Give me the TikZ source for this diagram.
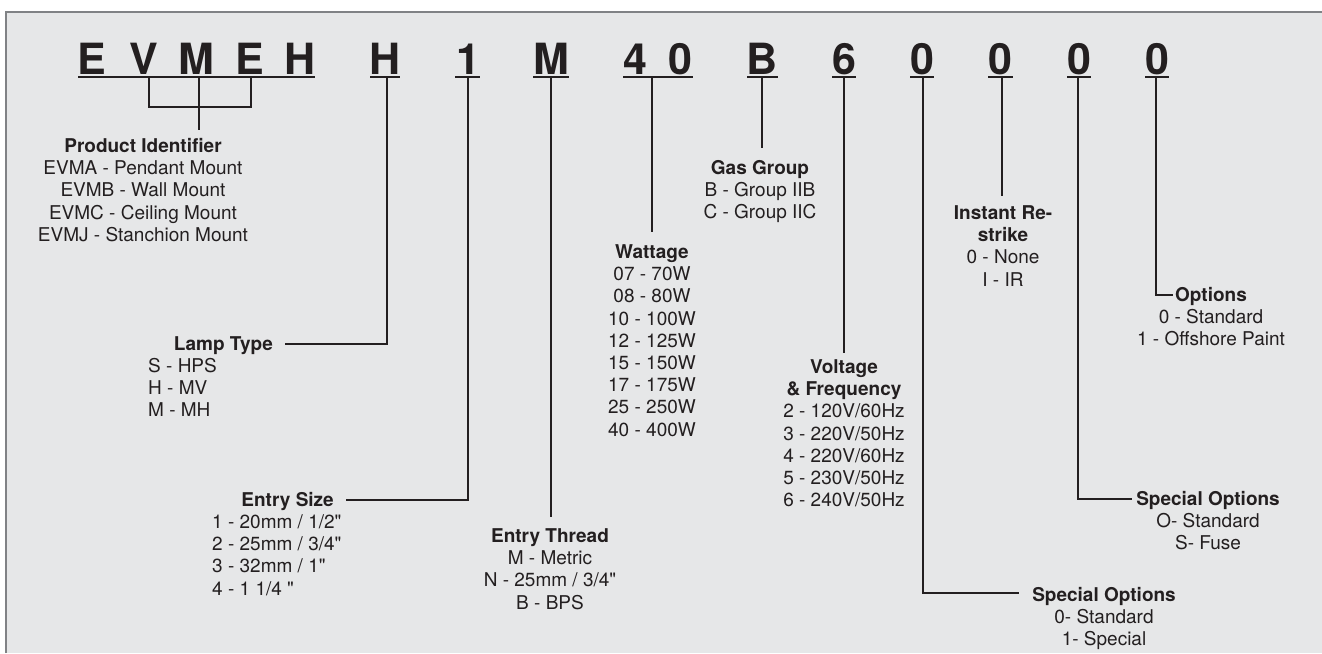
\documentclass[tikz,border=0pt]{standalone}
\usepackage{fontspec}
\setmainfont{TeX Gyre Heros}[Ligatures=TeXOff]
\definecolor{bgfill}{HTML}{E6E7E8}
\definecolor{ink}{HTML}{231F20}
\definecolor{framec}{HTML}{808285}
\newcommand\codefont{\fontsize{43}{43}\selectfont\bfseries}
\newcommand\txtfont{\fontsize{19}{22.2}\selectfont}
\newcommand\blkc[1]{\begin{tabular}[t]{@{}c@{}}#1\end{tabular}}
\newcommand\blkl[1]{\begin{tabular}[t]{@{}l@{}}#1\end{tabular}}
\tikzset{
  codech/.style={font=\codefont, text=ink, inner sep=0pt, anchor=base},
  uline/.style={draw=ink, line width=1.6pt},
  lead/.style={draw=ink, line width=2.6pt},
  lbl/.style={font=\txtfont, text=ink, inner sep=0pt, anchor=base},
  frameline/.style={draw=framec, line width=1.5pt}
}
\begin{document}
\begin{tikzpicture}[x=1pt,y=-1pt]
\useasboundingbox (0,0) rectangle (1322,653);
\fill[bgfill] (6,12) rectangle (1322,653);
\draw[frameline] (6,653) -- (6,12) -- (1322,12);

% code characters
\node[codech] (cE1) at (91.5,74) {E};
\node[codech] (cV) at (143.5,74) {V};
\node[codech] (cM1) at (196.5,74) {M};
\node[codech] (cE2) at (250,74) {E};
\node[codech] (cH1) at (300,74) {H};
\node[codech] (cH2) at (385,74) {H};
\node[codech] (cOne) at (468,74) {1};
\node[codech] (cM2) at (551,74) {M};
\node[codech] (cFour) at (635,74) {4};
\node[codech] (cZa) at (680.5,74) {0};
\node[codech] (cB) at (762.5,74) {B};
\node[codech] (cSix) at (844,74) {6};
\node[codech] (cZb) at (922,74) {0};
\node[codech] (cZc) at (1000.5,74) {0};
\node[codech] (cZd) at (1079,74) {0};
\node[codech] (cZe) at (1157,74) {0};

% underlines
\coordinate (u1l) at (78,77);  \coordinate (u1r) at (315,77);
\coordinate (u2l) at (370,77); \coordinate (u2r) at (400,77);
\coordinate (u3l) at (455,77); \coordinate (u3r) at (480,77);
\coordinate (u4l) at (533,77); \coordinate (u4r) at (569,77);
\coordinate (u5l) at (623,77); \coordinate (u5r) at (693,77);
\coordinate (u6l) at (747,77); \coordinate (u6r) at (778,77);
\coordinate (u7l) at (832,77); \coordinate (u7r) at (856,77);
\coordinate (u8l) at (910,77); \coordinate (u8r) at (934,77);
\coordinate (u9l) at (988,77); \coordinate (u9r) at (1013,77);
\coordinate (u10l) at (1067,77); \coordinate (u10r) at (1091,77);
\coordinate (u11l) at (1145,77); \coordinate (u11r) at (1169,77);
\foreach \i in {1,...,11} { \draw[uline] (u\i l) -- (u\i r); }

% label blocks
\node[lbl] (prod) at (143,152.5) {\blkc{\textbf{Product Identifier}\\EVMA - Pendant Mount\\EVMB - Wall Mount\\EVMC - Ceiling Mount\\EVMJ - Stanchion Mount}};
\node[lbl, anchor=base east] (lampT) at (273,350.5) {\textbf{Lamp Type}};
\node[lbl, anchor=base west] (lampL) at (148,372.5) {\blkl{S - HPS\\H - MV\\M - MH}};
\node[lbl, anchor=base east] (sizeT) at (334,506.5) {\textbf{Entry Size}};
\node[lbl, anchor=base west] (sizeL) at (212,528.5) {\blkl{1 - 20mm / 1/2"\\2 - 25mm / 3/4"\\3 - 32mm / 1"\\4 - 1 1/4 "}};
\node[lbl] (thread) at (550,542.5) {\blkc{\textbf{Entry Thread}\\M - Metric\\N - 25mm / 3/4"\\B - BPS}};
\node[lbl] (watt) at (652,258.5) {\blkc{\textbf{Wattage}\\07 - 70W\\08 - 80W\\10 - 100W\\12 - 125W\\15 - 150W\\17 - 175W\\25 - 250W\\40 - 400W}};
\node[lbl] (gas) at (760,174.5) {\blkc{\textbf{Gas Group}\\B - Group IIB\\C - Group IIC}};
\node[lbl] (volt) at (844,373.5) {\blkc{\textbf{Voltage}\\\textbf{\& Frequency}\\2 - 120V/60Hz\\3 - 220V/50Hz\\4 - 220V/60Hz\\5 - 230V/50Hz\\6 - 240V/50Hz}};
\node[lbl] (inst) at (1003,219.5) {\blkc{\textbf{Instant Re-}\\\textbf{strike}\\0 - None\\I - IR}};
\node[lbl] (opts) at (1211,301.5) {\blkc{\textbf{Options}\\0 - Standard\\1 - Offshore Paint}};
\node[lbl] (spec1) at (1208,505.5) {\blkc{\textbf{Special Options}\\O- Standard\\S- Fuse}};
\node[lbl] (spec2) at (1104,601.5) {\blkc{\textbf{Special Options}\\0- Standard\\1- Special}};

% lead coordinates
\coordinate (bV) at (149,77); \coordinate (bM) at (199,77); \coordinate (bE) at (251,77);
\coordinate (bVb) at (149,107); \coordinate (bMb) at (199,107); \coordinate (bEb) at (251,107);
\coordinate (prodTop) at (199,130);
\coordinate (uH) at (387,77);   \coordinate (lampEnd) at (285,344);
\coordinate (uOne) at (468,77); \coordinate (sizeEnd) at (346,500);
\coordinate (uM) at (551,77);   \coordinate (threadTop) at (551,517);
\coordinate (u40) at (652,77);  \coordinate (wattTop) at (652,232);
\coordinate (uB) at (762,77);   \coordinate (gasTop) at (762,148);
\coordinate (uSix) at (844,77); \coordinate (voltTop) at (844,353);
\coordinate (uZb) at (923,77);  \coordinate (spec2End) at (1019,593);
\coordinate (uZc) at (1002,77); \coordinate (instTop) at (1002,196);
\coordinate (uZd) at (1078,77); \coordinate (spec1End) at (1132,499);
\coordinate (uZe) at (1156,77); \coordinate (optsEnd) at (1173,295);

% leads
\draw[lead, line cap=butt] (bV) -- (bVb) -- (bEb) -- (bE);
\draw[lead] (bM) -- (prodTop);
\draw[lead] (uH) |- (lampEnd);
\draw[lead] (uOne) |- (sizeEnd);
\draw[lead] (uM) -- (threadTop);
\draw[lead] (u40) -- (wattTop);
\draw[lead] (uB) -- (gasTop);
\draw[lead] (uSix) -- (voltTop);
\draw[lead] (uZb) |- (spec2End);
\draw[lead] (uZc) -- (instTop);
\draw[lead] (uZd) |- (spec1End);
\draw[lead] (uZe) |- (optsEnd);
\end{tikzpicture}
\end{document}
